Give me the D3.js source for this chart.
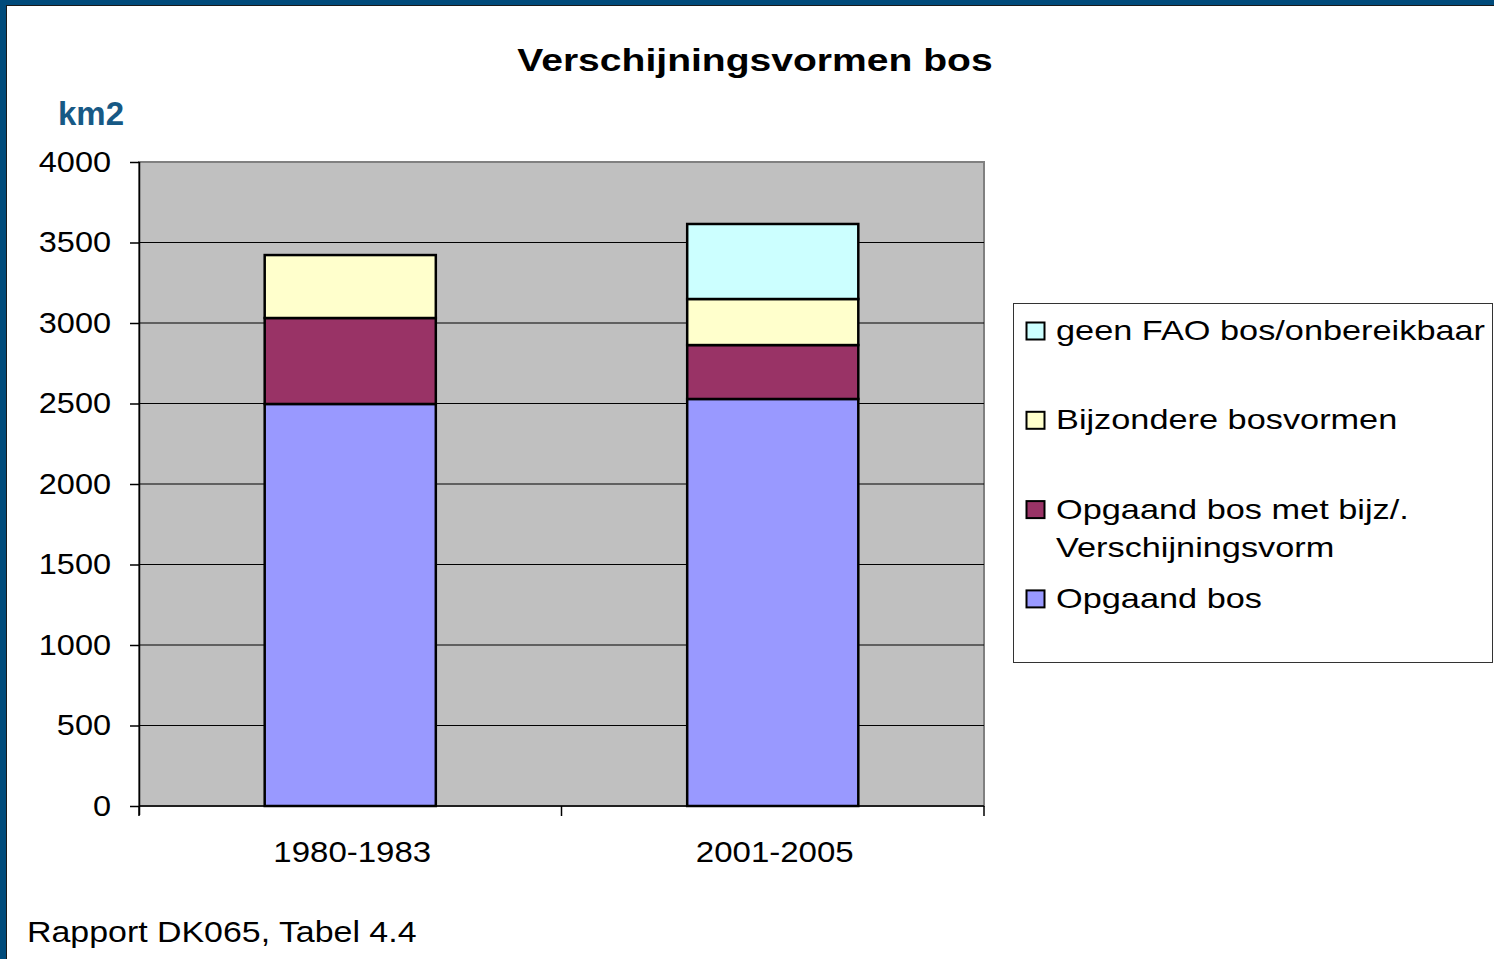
<!DOCTYPE html>
<html>
<head>
<meta charset="utf-8">
<script src="https://cdn.jsdelivr.net/npm/d3@7"></script>
<style>
  body { margin: 0; background: #fff; }
  svg text { font-family: "Liberation Sans", Arial, sans-serif; fill: #000; }
</style>
</head>
<body>
<div id="chart"></div>
<script>
// data (km2)
const periods = ['1980-1983', '2001-2005'];
const opgaandBos = [2497, 2528];
const opgaandBijz = [534, 335];
const bijzondere = [391, 286];
const geenFAO = [0, 466];
const yTicks = [0, 500, 1000, 1500, 2000, 2500, 3000, 3500, 4000];

const seriesKeys = ['opgaand', 'bijz', 'bijzondere', 'geen'];
const seriesNames = {
  geen: 'geen FAO bos/onbereikbaar',
  bijzondere: 'Bijzondere bosvormen',
  bijz: ['Opgaand bos met bijz/.', 'Verschijningsvorm'],
  opgaand: 'Opgaand bos'
};
const colors = {opgaand: '#9999ff', bijz: '#993366', bijzondere: '#ffffcc', geen: '#ccffff'};

const rows = periods.map((p, i) => ({
  period: p, opgaand: opgaandBos[i], bijz: opgaandBijz[i],
  bijzondere: bijzondere[i], geen: geenFAO[i]
}));

const W = 1494, H = 959;
const plot = {left: 139, right: 984, top: 162, bottom: 806};

const svg = d3.select('#chart').append('svg')
  .attr('width', W).attr('height', H);

// stretch text horizontally a bit, like the original rendering
function stretch(sel, k) {
  sel.each(function () {
    const w = this.getComputedTextLength();
    d3.select(this).attr('textLength', w * k).attr('lengthAdjust', 'spacingAndGlyphs');
  });
}

// frame
svg.append('rect').attr('width', W).attr('height', H).attr('fill', '#004b7b');
svg.append('rect').attr('x', 6.5).attr('y', 5.5).attr('width', W).attr('height', H)
  .attr('fill', '#fff').attr('stroke', '#1a1a1a').attr('stroke-width', 1);

const x = d3.scaleBand().domain(periods)
  .range([plot.left, plot.right]).paddingInner(0.595).paddingOuter(0.2975);
const y = d3.scaleLinear().domain([0, 4000]).range([plot.bottom, plot.top]);

// plot area
svg.append('rect')
  .attr('x', plot.left).attr('y', plot.top)
  .attr('width', plot.right - plot.left).attr('height', plot.bottom - plot.top)
  .attr('fill', '#c0c0c0').attr('stroke', '#808080').attr('stroke-width', 2);

// gridlines
svg.append('g').selectAll('line').data(yTicks.filter(d => d > 0 && d < 4000)).enter()
  .append('line')
  .attr('x1', plot.left).attr('x2', plot.right)
  .attr('y1', d => y(d)).attr('y2', d => y(d))
  .attr('stroke', '#000').attr('stroke-width', 1);

// bars
const stack = d3.stack().keys(seriesKeys)(rows);
svg.append('g').selectAll('g').data(stack).enter()
  .append('g').attr('fill', d => colors[d.key])
  .selectAll('rect').data(d => d.filter(v => v[1] - v[0] > 0)).enter()
  .append('rect')
  .attr('x', d => x(d.data.period))
  .attr('width', x.bandwidth())
  .attr('y', d => y(d[1]))
  .attr('height', d => y(d[0]) - y(d[1]))
  .attr('stroke', '#000').attr('stroke-width', 2.5);

// y axis
const yAxis = svg.append('g')
  .attr('transform', 'translate(' + plot.left + ',0)')
  .call(d3.axisLeft(y).tickValues(yTicks).tickSize(9).tickPadding(19).tickFormat(d3.format('d')));
yAxis.select('.domain').attr('stroke', '#000').attr('stroke-width', 1.5).attr('d', 'M0.5,' + plot.top + 'V' + (plot.bottom + 9));
yAxis.selectAll('.tick line').attr('stroke', '#000').attr('stroke-width', 1.5);
yAxis.selectAll('.tick text')
  .attr('font-size', 29).attr('font-family', '"Liberation Sans", Arial, sans-serif')
  .attr('fill', '#000');
stretch(yAxis.selectAll('.tick text'), 1.12);

// x axis
svg.append('line')
  .attr('x1', plot.left).attr('x2', plot.right)
  .attr('y1', plot.bottom).attr('y2', plot.bottom)
  .attr('stroke', '#000').attr('stroke-width', 1.5);
svg.append('g').selectAll('line')
  .data([plot.left, (plot.left + plot.right) / 2, plot.right]).enter()
  .append('line')
  .attr('x1', d => d).attr('x2', d => d)
  .attr('y1', plot.bottom).attr('y2', plot.bottom + 10)
  .attr('stroke', '#000').attr('stroke-width', 1.5);
const xLabels = svg.append('g').selectAll('text').data(periods).enter()
  .append('text')
  .attr('x', d => x(d) + x.bandwidth() / 2 + 2)
  .attr('y', 862)
  .attr('text-anchor', 'middle')
  .attr('font-size', 30)
  .text(d => d);
stretch(xLabels, 1.1);

// title & unit
const title = svg.append('text')
  .attr('x', 755).attr('y', 71)
  .attr('text-anchor', 'middle')
  .attr('font-size', 31).attr('font-weight', 'bold')
  .text('Verschijningsvormen bos');
stretch(title, 1.26);

svg.append('text')
  .attr('x', 58).attr('y', 125)
  .attr('font-size', 33).attr('font-weight', 'bold')
  .style('fill', '#175985')
  .text('km2');

// legend
const legend = svg.append('g');
legend.append('rect')
  .attr('x', 1013.5).attr('y', 303.5).attr('width', 479).attr('height', 359)
  .attr('fill', '#fff').attr('stroke', '#333').attr('stroke-width', 1);
const legendOrder = ['geen', 'bijzondere', 'bijz', 'opgaand'];
const item = legend.selectAll('g.item').data(legendOrder).enter()
  .append('g').attr('class', 'item')
  .attr('transform', (d, i) => 'translate(1026,' + (340 + i * 89.3) + ')');
item.append('rect')
  .attr('x', 0.5).attr('y', -17.5).attr('width', 18).attr('height', 17)
  .attr('fill', d => colors[d]).attr('stroke', '#000').attr('stroke-width', 2);
const itemText = item.append('text')
  .attr('x', 30).attr('y', 0)
  .attr('font-size', 28);
itemText.selectAll('tspan')
  .data(d => [].concat(seriesNames[d])).enter()
  .append('tspan')
  .attr('x', 30).attr('dy', (d, i) => i === 0 ? 0 : 38)
  .text(d => d);
item.selectAll('tspan').each(function () {
  const w = this.getComputedTextLength();
  d3.select(this).attr('textLength', w * 1.225).attr('lengthAdjust', 'spacingAndGlyphs');
});

// source note
const note = svg.append('text')
  .attr('x', 27).attr('y', 942)
  .attr('font-size', 30)
  .text('Rapport DK065, Tabel 4.4');
stretch(note, 1.13);
</script>
</body>
</html>
